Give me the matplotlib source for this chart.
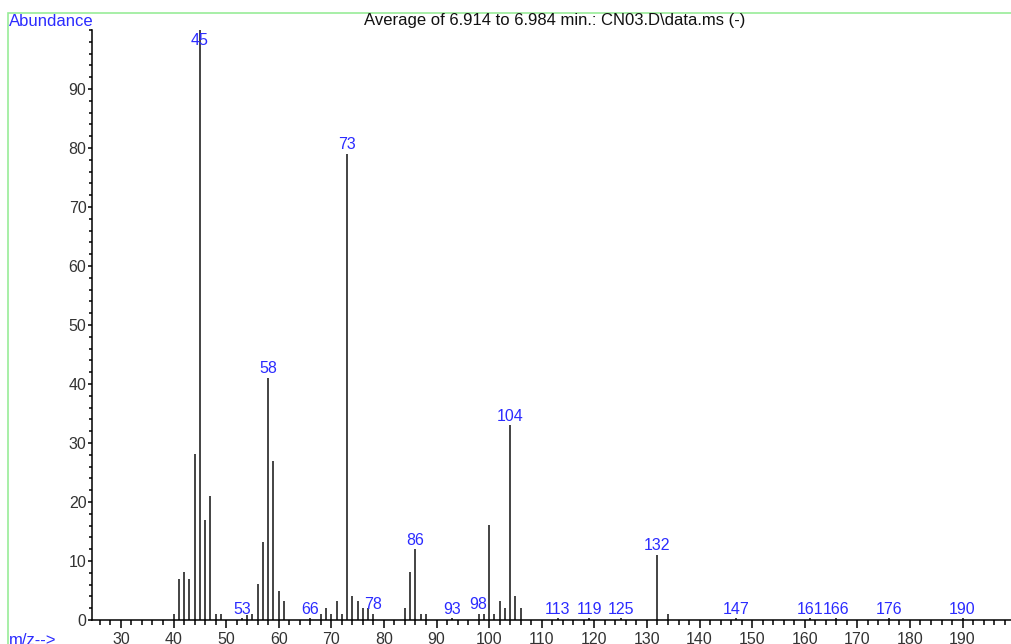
import matplotlib.pyplot as plt
from matplotlib.patches import Rectangle
from matplotlib.ticker import MultipleLocator

plt.rcParams['font.family'] = ['Liberation Sans', 'DejaVu Sans']

# averaged spectrum, m/z and relative abundance
mz = [40, 41, 42, 43, 44, 45, 46, 47, 48, 49,
      53, 54, 55, 56, 57, 58, 59, 60, 61,
      66, 68, 69, 70, 71, 72, 73, 74, 75, 76, 77, 78,
      84, 85, 86, 87, 88, 93, 98, 99,
      100, 101, 102, 103, 104, 105, 106,
      113, 119, 125, 132, 134, 147, 161, 166, 176, 190]
abundance = [1.1, 7.0, 8.1, 7.0, 28.1, 100, 17.0, 21.1, 1.1, 1.1,
             0.3, 0.8, 1.1, 6.1, 13.2, 41.0, 27.0, 5.0, 3.2,
             0.3, 1.1, 2.0, 1.1, 3.2, 1.1, 79.0, 4.1, 3.2, 2.0, 2.0, 1.1,
             2.0, 8.1, 12.0, 1.1, 1.1, 0.3, 1.1, 1.1,
             16.1, 1.1, 3.2, 2.0, 33.0, 4.1, 2.0,
             0.3, 0.3, 0.3, 11.1, 1.1, 0.3, 0.3, 0.3, 0.3, 0.3]
labelled = [45, 53, 58, 66, 73, 78, 86, 93, 98, 104,
            113, 119, 125, 132, 147, 161, 166, 176, 190]

title = "Average of 6.914 to 6.984 min.: CN03.D\\data.ms (-)"
blue = '#2b2bff'

W, H = 1012, 644
fig = plt.figure(figsize=(W / 100, H / 100), dpi=100)

# light green frame round the whole plot
fig.patches.append(Rectangle((8 / W, -0.1), 1.2, 1 - 13 / H + 0.1,
                             transform=fig.transFigure, fill=False,
                             edgecolor='#98ec98', linewidth=1.2))

ax = fig.add_axes([92 / W, 24 / H, 1 - 92 / W, (620 - 30) / H])
ax.vlines(mz, 0, abundance, color='#111111', linewidth=1.1)

# labels sit just above each peak; the base peak label stays inside the axes
for m, a in zip(mz, abundance):
    if m in labelled:
        y = min(a, 96.7)
        ax.annotate(str(m), (m, y), xytext=(0, 1.2), textcoords='offset points',
                    ha='center', va='bottom', color=blue, fontsize=11.5)

ax.set_xlim(24.5, 199.4)
ax.set_ylim(0, 100)
for s in ['top', 'right']:
    ax.spines[s].set_visible(False)
for s in ['left', 'bottom']:
    ax.spines[s].set_linewidth(1.1)

ax.xaxis.set_major_locator(MultipleLocator(10))
ax.xaxis.set_minor_locator(MultipleLocator(2))
ax.yaxis.set_major_locator(MultipleLocator(10))
ax.yaxis.set_minor_locator(MultipleLocator(2))
ax.set_xticks(range(30, 200, 10))
ax.set_yticks(range(0, 100, 10))
ax.tick_params(axis='x', which='major', length=6, width=1.1, pad=3,
               labelsize=11.5, labelcolor='#333333')
ax.tick_params(axis='x', which='minor', length=3.5, width=1.1)
ax.tick_params(axis='y', which='major', length=3, width=1.1, pad=1,
               labelsize=11.5, labelcolor='#333333')
ax.tick_params(axis='y', which='minor', length=2, width=1.1)

fig.text(9 / W, 1 - 21 / H, 'Abundance', color=blue, fontsize=12,
         ha='left', va='center')
fig.text(555 / W, 1 - 21 / H, title, color='#111111', fontsize=12,
         ha='center', va='center')
fig.text(9 / W, 1 - 633 / H, 'm/z-->', color=blue, fontsize=12,
         ha='left', va='top')

fig.savefig('out.png', dpi=100)
